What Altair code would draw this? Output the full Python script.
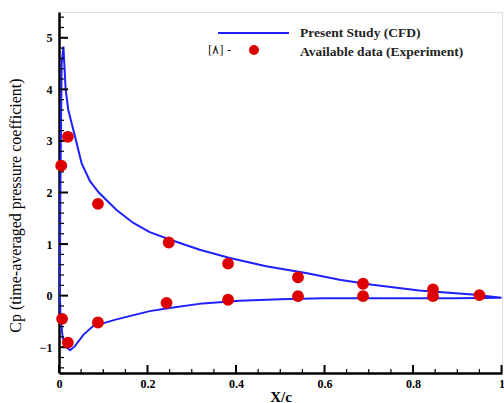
import altair as alt
import pandas as pd

exp_x = [0.005, 0.02, 0.088, 0.248, 0.382, 0.54, 0.687, 0.845, 0.95,
         0.007, 0.02, 0.088, 0.243, 0.382, 0.54, 0.687, 0.845]
exp_cp = [2.52, 3.08, 1.78, 1.03, 0.62, 0.355, 0.23, 0.12, 0.01,
          -0.45, -0.91, -0.52, -0.14, -0.08, -0.01, -0.01, -0.01]

# CFD curve: upper surface (trailing edge -> leading edge), then lower surface (LE -> TE)
upper_x = [1.0, 0.934, 0.814, 0.708, 0.634, 0.558, 0.468, 0.386, 0.318, 0.25,
           0.205, 0.168, 0.13, 0.09, 0.07, 0.051, 0.036, 0.021, 0.015, 0.012,
           0.01, 0.006, 0.003, 0.002]
upper_cp = [-0.04, 0.02, 0.10, 0.21, 0.31, 0.44, 0.57, 0.73, 0.89, 1.09,
            1.23, 1.41, 1.66, 2.0, 2.22, 2.57, 3.09, 3.6, 4.0, 4.5,
            4.83, 4.5, 2.0, 0.0]
lower_x = [0.003, 0.005, 0.008, 0.014, 0.025, 0.036, 0.055, 0.077, 0.13, 0.205,
           0.25, 0.325, 0.408, 0.5, 0.6, 0.7, 0.8, 0.9, 1.0]
lower_cp = [-0.3, -0.53, -0.79, -0.98, -1.06, -0.98, -0.76, -0.59, -0.46, -0.30,
            -0.24, -0.15, -0.10, -0.07, -0.05, -0.05, -0.05, -0.05, -0.04]

x_major = [0, 0.2, 0.4, 0.6, 0.8, 1.0]
x_minor = [0.05, 0.1, 0.15, 0.25, 0.3, 0.35, 0.45, 0.5, 0.55, 0.65, 0.7, 0.75,
           0.85, 0.9, 0.95]
y_major = [-1, 0, 1, 2, 3, 4, 5]
y_minor = [-1.4, -1.2, -0.8, -0.6, -0.4, -0.2, 0.2, 0.4, 0.6, 0.8, 1.2, 1.4, 1.6,
           1.8, 2.2, 2.4, 2.6, 2.8, 3.2, 3.4, 3.6, 3.8, 4.2, 4.4, 4.6, 4.8, 5.2, 5.4]

W, H = 443, 361
FONT = "Liberation Serif"

curve_x = upper_x + lower_x
curve_cp = upper_cp + lower_cp
curve = pd.DataFrame({"x": curve_x, "cp": curve_cp, "o": list(range(len(curve_x)))})
exp = pd.DataFrame({"x": exp_x, "cp": exp_cp})

xs = alt.Scale(domain=[0, 1.001], nice=False, zero=False)
ys = alt.Scale(domain=[-1.5, 5.5], nice=False, zero=False)

xaxis = alt.Axis(values=x_major, ticks=False, domain=True, domainColor="black",
                 domainWidth=2.5, grid=False, labelFont=FONT, labelFontWeight="bold",
                 labelFontSize=12, labelColor="black", labelPadding=5,
                 labelExpr="datum.value == 0 ? '0' : datum.value > 0.99 ? '1' : format(datum.value, '.1f')",
                 labelOverlap=False, labelBound=False,
                 title="X/c", titleFont=FONT, titleFontWeight="bold", titleFontSize=15,
                 titleColor="black", titlePadding=0, labelFlush=False)
yaxis = alt.Axis(values=y_major, ticks=False, domain=True, domainColor="black",
                 domainWidth=2.5, grid=False, labelFont=FONT, labelFontWeight="bold",
                 labelFontSize=12, labelColor="black", labelPadding=7,
                 labelExpr="format(datum.value, 'd')", labelOverlap=False, labelBound=False,
                 title="Cp (time-averaged pressure coefficient)", titleFont=FONT,
                 titleFontWeight="normal", titleFontSize=16, titleColor="black",
                 titleX=-44, titleY=193, titleBaseline="middle", labelFlush=False)

line = alt.Chart(curve).mark_line(color="#1f1fff", strokeWidth=2).encode(
    x=alt.X("x:Q", scale=xs, axis=xaxis),
    y=alt.Y("cp:Q", scale=ys, axis=yaxis),
    order="o:Q",
)
pts = alt.Chart(exp).mark_circle(color="#dd0000", opacity=1, size=140).encode(
    x=alt.X("x:Q", scale=xs),
    y=alt.Y("cp:Q", scale=ys),
)

xmaj = alt.Chart(pd.DataFrame({"x": x_major})).mark_rule(color="black", strokeWidth=2).encode(
    x=alt.X("x:Q", scale=xs), y=alt.value(H), y2=alt.value(H - 8))
xmin = alt.Chart(pd.DataFrame({"x": x_minor})).mark_rule(color="black", strokeWidth=1.2).encode(
    x=alt.X("x:Q", scale=xs), y=alt.value(H), y2=alt.value(H - 4))
ymaj = alt.Chart(pd.DataFrame({"y": y_major})).mark_rule(color="black", strokeWidth=2).encode(
    y=alt.Y("y:Q", scale=ys), x=alt.value(0), x2=alt.value(9))
ymin = alt.Chart(pd.DataFrame({"y": y_minor})).mark_rule(color="black", strokeWidth=1.2).encode(
    y=alt.Y("y:Q", scale=ys), x=alt.value(0), x2=alt.value(5))

# legend
leg_line = alt.Chart(pd.DataFrame({"a": [0]})).mark_rule(color="#1f1fff", strokeWidth=2).encode(
    x=alt.value(159), x2=alt.value(230), y=alt.value(21))
leg_dot = alt.Chart(pd.DataFrame({"a": [0]})).mark_circle(color="#dd0000", opacity=1, size=100).encode(
    x=alt.value(195), y=alt.value(38))
leg_t1 = alt.Chart(pd.DataFrame({"t": ["Present Study (CFD)"]})).mark_text(
    font=FONT, fontWeight="bold", fontSize=13.5, align="left", baseline="middle", color="#222"
).encode(x=alt.value(241), y=alt.value(21), text="t:N")
leg_t2 = alt.Chart(pd.DataFrame({"t": ["Available data (Experiment)"]})).mark_text(
    font=FONT, fontWeight="bold", fontSize=13.5, align="left", baseline="middle", color="#222"
).encode(x=alt.value(241), y=alt.value(40), text="t:N")
leg_t3 = alt.Chart(pd.DataFrame({"t": ["[۸] -"]})).mark_text(
    font=FONT, fontSize=13, align="left", baseline="middle", color="#222"
).encode(x=alt.value(149), y=alt.value(38), text="t:N")

chart = alt.layer(line, xmaj, xmin, ymaj, ymin, pts, leg_line, leg_dot, leg_t1, leg_t2, leg_t3).properties(
    width=W, height=H,
    autosize=alt.AutoSizeParams(type="none"),
    padding={"left": 59, "top": 12, "right": 2, "bottom": 30},
).configure_view(stroke="black", strokeWidth=2).configure(background="white")

chart.save("out.html", embed_options={"renderer": "svg", "actions": False})
